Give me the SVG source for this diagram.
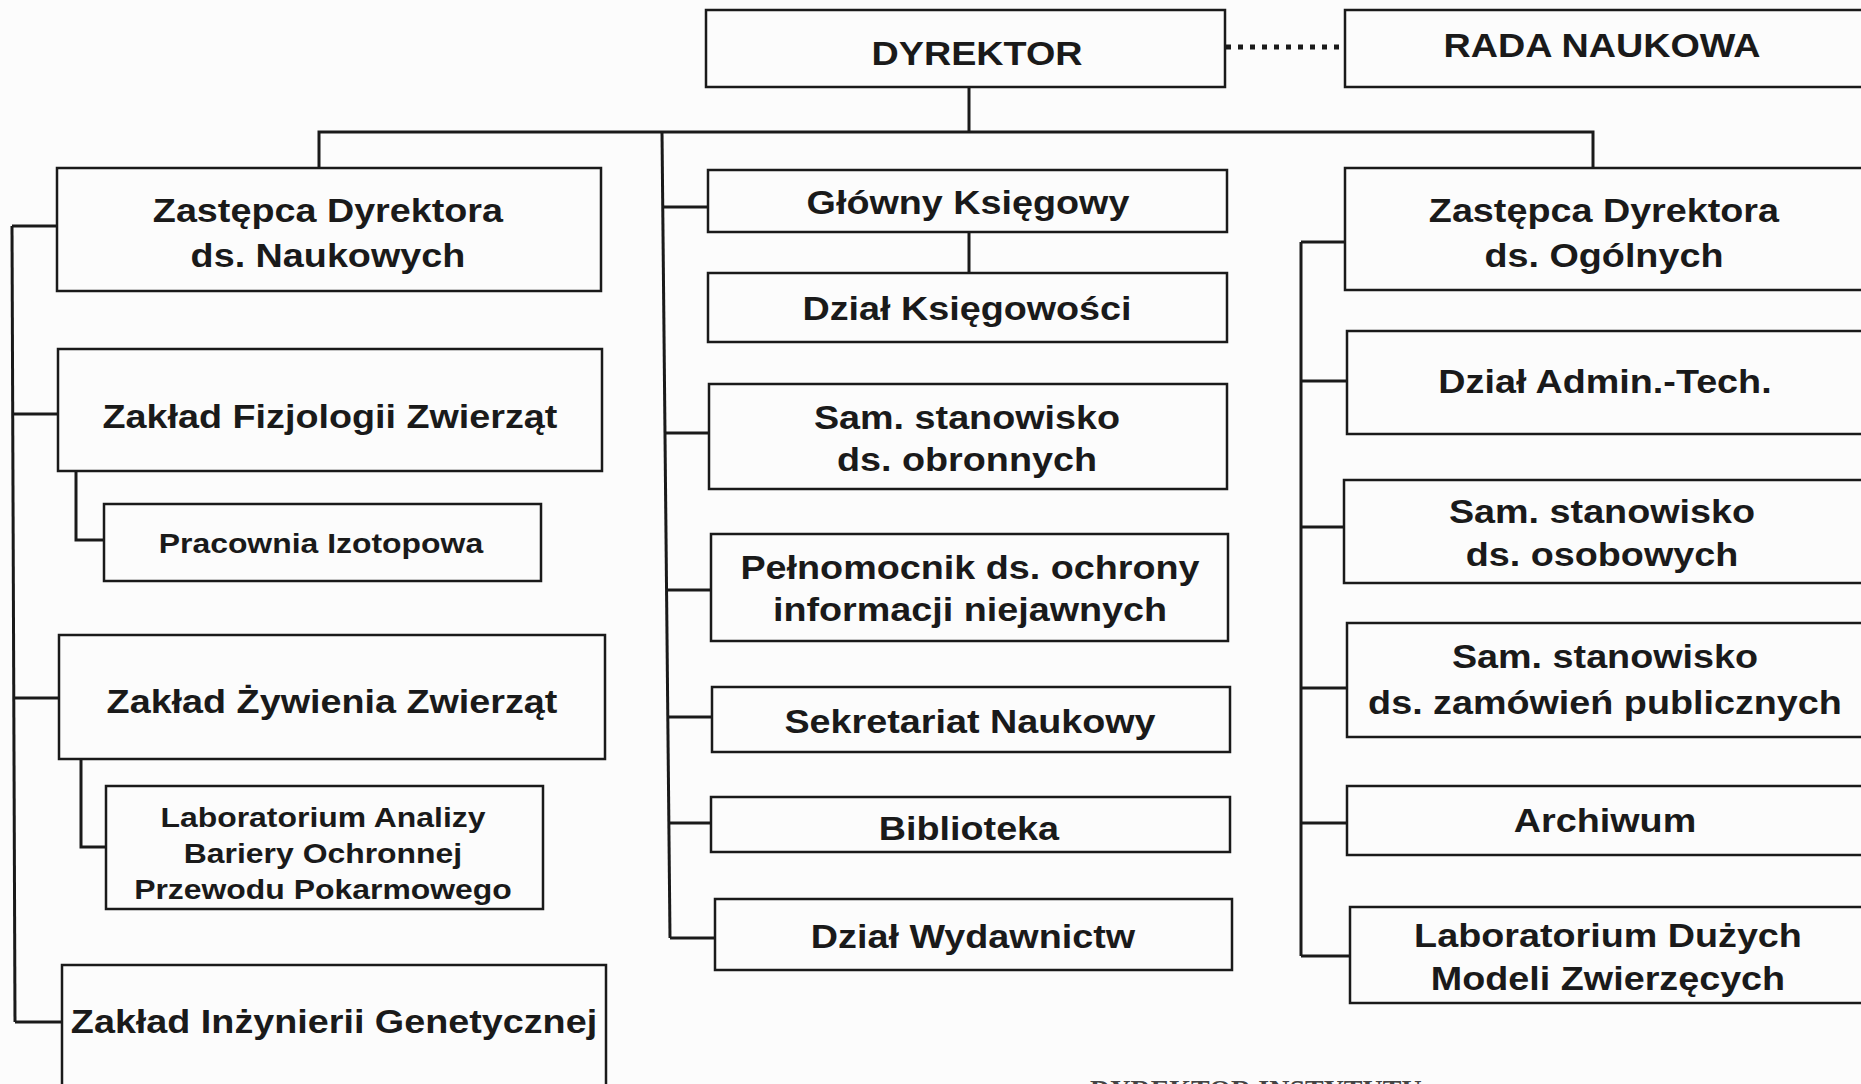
<svg xmlns="http://www.w3.org/2000/svg" width="1861" height="1084" viewBox="0 0 1861 1084">
<style>
.bg{fill:#fcfcfc}
.box{fill:#fcfcfc;stroke:#1a1a1a;stroke-width:2.5}
.c{fill:none;stroke:#1a1a1a;stroke-width:3}
.dot{fill:none;stroke:#1a1a1a;stroke-width:5;stroke-dasharray:5 7}
.t{font-family:"Liberation Sans",Arial,sans-serif;font-weight:bold;font-size:34px;fill:#1a1a1a;text-anchor:middle;transform-box:fill-box;transform-origin:center;transform:scaleX(1.11)}
.s{font-size:28.5px;transform:scaleX(1.12)}
.f{font-family:"Liberation Serif","Times New Roman",serif;font-weight:bold;font-size:28px;fill:#444}
</style>
<rect class="bg" x="0" y="0" width="1861" height="1084"/>
<g id="connectors">
<path class="c" d="M969,87 V132"/>
<path class="c" d="M319,168 V132 H1593 V168"/>
<path class="c" d="M662,132 L670,938"/>
<path class="c" d="M663,207 H708 M665,433 H709 M666.5,590 H711 M668,717 H712 M669,823 H711 M670,938 H715"/>
<path class="c" d="M969,232 V273"/>
<path class="c" d="M12,226 L15,1022"/>
<path class="c" d="M12,226 H57 M13,414 H58 M14,698 H59 M15,1022 H62"/>
<path class="c" d="M76,471 V540 H104"/>
<path class="c" d="M81,759 V847 H106"/>
<path class="c" d="M1301,242 V956"/>
<path class="c" d="M1301,242 H1345 M1301,381 H1347 M1301,527 H1344 M1301,688 H1347 M1301,823 H1347 M1301,956 H1350"/>
<path class="dot" d="M1226,47 H1345"/>
</g>
<g id="dyrektor"><rect class="box" x="706" y="10" width="519" height="77"/><text class="t" x="977" y="65">DYREKTOR</text></g>
<g id="rada-naukowa"><rect class="box" x="1345" y="10" width="522" height="77"/><text class="t" x="1602" y="57">RADA NAUKOWA</text></g>
<g id="zastepca-naukowy"><rect class="box" x="57" y="168" width="544" height="123"/><text class="t"><tspan x="328" y="222">Zastępca Dyrektora</tspan><tspan x="328" y="267">ds. Naukowych</tspan></text></g>
<g id="glowny-ksiegowy"><rect class="box" x="708" y="170" width="519" height="62"/><text class="t" x="968" y="214">Główny Księgowy</text></g>
<g id="dzial-ksiegowosci"><rect class="box" x="708" y="273" width="519" height="69"/><text class="t" x="967" y="320">Dział Księgowości</text></g>
<g id="zastepca-ogolny"><rect class="box" x="1345" y="168" width="522" height="122"/><text class="t"><tspan x="1604" y="222">Zastępca Dyrektora</tspan><tspan x="1604" y="267">ds. Ogólnych</tspan></text></g>
<g id="zaklad-fizjologii"><rect class="box" x="58" y="349" width="544" height="122"/><text class="t" x="330" y="428">Zakład Fizjologii Zwierząt</text></g>
<g id="pracownia-izotopowa"><rect class="box" x="104" y="504" width="437" height="77"/><text class="t s" x="321" y="553">Pracownia Izotopowa</text></g>
<g id="sam-obronnych"><rect class="box" x="709" y="384" width="518" height="105"/><text class="t"><tspan x="967" y="429">Sam. stanowisko</tspan><tspan x="967" y="471">ds. obronnych</tspan></text></g>
<g id="pelnomocnik"><rect class="box" x="711" y="534" width="517" height="107"/><text class="t"><tspan x="970" y="579">Pełnomocnik ds. ochrony</tspan><tspan x="970" y="621">informacji niejawnych</tspan></text></g>
<g id="sekretariat"><rect class="box" x="712" y="687" width="518" height="65"/><text class="t" x="970" y="733">Sekretariat Naukowy</text></g>
<g id="biblioteka"><rect class="box" x="711" y="797" width="519" height="55"/><text class="t" x="969" y="840">Biblioteka</text></g>
<g id="dzial-wydawnictw"><rect class="box" x="715" y="899" width="517" height="71"/><text class="t" x="973" y="948">Dział Wydawnictw</text></g>
<g id="zaklad-zywienia"><rect class="box" x="59" y="635" width="546" height="124"/><text class="t" x="332" y="713">Zakład Żywienia Zwierząt</text></g>
<g id="lab-analizy"><rect class="box" x="106" y="786" width="437" height="123"/><text class="t s"><tspan x="323" y="827">Laboratorium Analizy</tspan><tspan x="323" y="863">Bariery Ochronnej</tspan><tspan x="323" y="899">Przewodu Pokarmowego</tspan></text></g>
<g id="zaklad-inzynierii"><rect class="box" x="62" y="965" width="544" height="135"/><text class="t" x="334" y="1033">Zakład Inżynierii Genetycznej</text></g>
<g id="dzial-admin"><rect class="box" x="1347" y="331" width="520" height="103"/><text class="t" x="1605" y="393">Dział Admin.-Tech.</text></g>
<g id="sam-osobowych"><rect class="box" x="1344" y="480" width="523" height="103"/><text class="t"><tspan x="1602" y="523">Sam. stanowisko</tspan><tspan x="1602" y="566">ds. osobowych</tspan></text></g>
<g id="sam-zamowien"><rect class="box" x="1347" y="623" width="520" height="114"/><text class="t"><tspan x="1605" y="668">Sam. stanowisko</tspan><tspan x="1605" y="714">ds. zamówień publicznych</tspan></text></g>
<g id="archiwum"><rect class="box" x="1347" y="786" width="520" height="69"/><text class="t" x="1605" y="832">Archiwum</text></g>
<g id="lab-duzych"><rect class="box" x="1350" y="907" width="517" height="96"/><text class="t"><tspan x="1608" y="947">Laboratorium Dużych</tspan><tspan x="1608" y="990">Modeli Zwierzęcych</tspan></text></g>
<text class="f" x="1090" y="1099">DYREKTOR INSTYTUTU</text>
</svg>
